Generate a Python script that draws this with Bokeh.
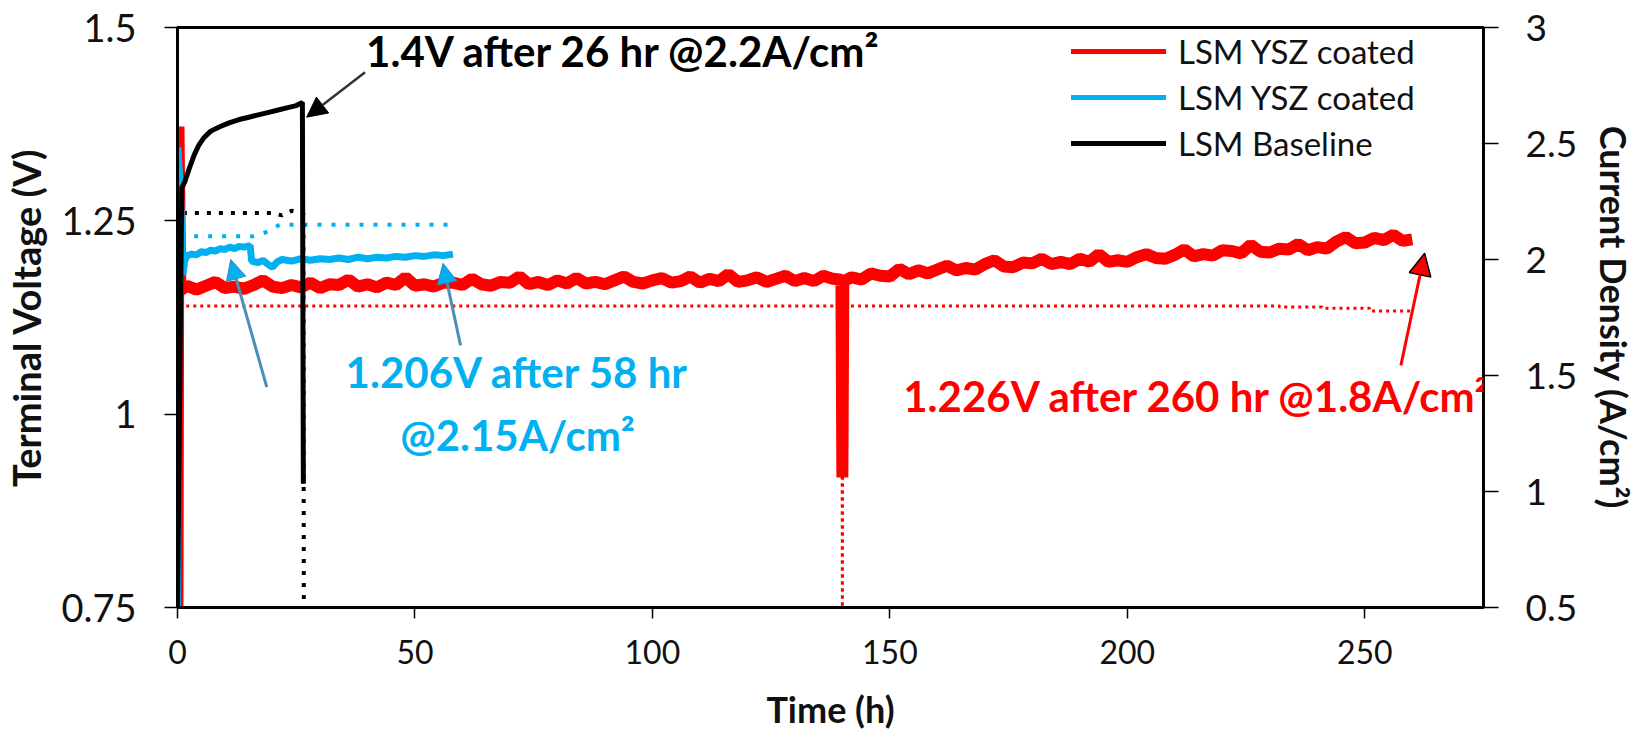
from bokeh.plotting import figure
from bokeh.models import (Range1d, LinearAxis, FixedTicker, CustomJSTickFormatter, Label,
                          Arrow, NormalHead, Legend, LegendItem)
from bokeh.embed import file_html
from bokeh.resources import INLINE

# ---------------- data ----------------
x_ticks = [0, 50, 100, 150, 200, 250]
v_ticks = [0.75, 1, 1.25, 1.5]
j_ticks = [0.5, 1, 1.5, 2, 2.5, 3]

series_names = ["LSM YSZ coated", "LSM YSZ coated", "LSM Baseline"]

# red: LSM YSZ coated (260 h) - voltage
red_t = [0, 0.2, 0.6, 2, 4, 6, 8, 10, 12, 14, 16, 18, 20, 22, 24, 26, 28, 30, 32, 34, 36, 38,
         40, 42, 44, 46, 48, 50, 52, 54, 56, 58, 60, 62, 64, 66, 68, 70, 72, 74, 76, 78, 80,
         82, 84, 86, 88, 90, 92, 94, 96, 98, 100, 102, 104, 106, 108, 110, 112, 114, 116, 118,
         120, 122, 124, 126, 128, 130, 132, 134, 136, 138, 139.8, 140, 140.2, 142, 144, 146,
         148, 150, 152, 154, 156, 158, 160, 162, 164, 166, 168, 170, 172, 174, 176, 178, 180,
         182, 184, 186, 188, 190, 192, 194, 196, 198, 200, 202, 204, 206, 208, 210, 212, 214,
         216, 218, 220, 222, 224, 226, 228, 230, 232, 234, 236, 238, 240, 242, 244, 246, 248,
         250, 252, 254, 256, 258, 260]
red_v = [0.75, 1.372, 1.160,
         1.166, 1.161, 1.166, 1.171, 1.163, 1.165, 1.162, 1.167, 1.173, 1.165, 1.163, 1.167,
         1.164, 1.170, 1.163, 1.168, 1.167, 1.174, 1.165, 1.168, 1.164, 1.170, 1.167, 1.177,
         1.166, 1.168, 1.165, 1.170, 1.170, 1.167, 1.175, 1.168, 1.166, 1.171, 1.170, 1.178,
         1.168, 1.171, 1.167, 1.173, 1.169, 1.176, 1.169, 1.171, 1.168, 1.173, 1.178, 1.171,
         1.169, 1.173, 1.176, 1.170, 1.172, 1.178, 1.170, 1.175, 1.172, 1.181, 1.171, 1.173,
         1.177, 1.171, 1.175, 1.179, 1.172, 1.176, 1.172, 1.179, 1.175,
         1.174, 0.918, 1.172,
         1.177, 1.174, 1.182, 1.179, 1.178, 1.188, 1.181, 1.186, 1.182, 1.187, 1.192, 1.186,
         1.189, 1.187, 1.194, 1.199, 1.191, 1.190, 1.196, 1.195, 1.201, 1.194, 1.197, 1.194,
         1.201, 1.197, 1.207, 1.197, 1.199, 1.197, 1.203, 1.207, 1.202, 1.201, 1.206, 1.213,
         1.204, 1.207, 1.205, 1.212, 1.211, 1.208, 1.219, 1.210, 1.209, 1.214, 1.213, 1.220,
         1.212, 1.216, 1.214, 1.223, 1.229, 1.221, 1.222, 1.228, 1.225, 1.232, 1.224, 1.226]
# red: current density (dotted)
red_jt = [0, 0.5, 139.9, 140, 140.1, 232, 232.1, 241, 241.1, 251, 251.1, 260]
red_j = [0.5, 1.8, 1.8, 0.5, 1.8, 1.8, 1.795, 1.795, 1.79, 1.79, 1.778, 1.778]

# blue: LSM YSZ coated (58 h) - voltage
blue_t = [0, 0.1, 0.5, 0.9, 1.1, 1.5, 2, 3, 4, 5, 6, 7, 8, 9, 10, 11, 12, 13, 14, 15.3, 15.6,
          17, 18, 19, 20, 21, 22, 24, 26, 28, 30, 32, 34, 36, 38, 40, 42, 44, 46, 48, 50, 52,
          54, 56, 58]
blue_v = [0.75, 1.345, 1.30, 1.24, 1.18, 1.198, 1.205, 1.207, 1.206, 1.210, 1.209, 1.212,
          1.211, 1.214, 1.213, 1.216, 1.214, 1.217, 1.216, 1.218, 1.198, 1.196, 1.199, 1.194,
          1.190, 1.197, 1.200, 1.198, 1.201, 1.199, 1.201, 1.200, 1.202, 1.200, 1.203, 1.201,
          1.203, 1.202, 1.204, 1.203, 1.205, 1.204, 1.206, 1.205, 1.207]
blue_jt = [0, 0.3, 1, 16, 19, 21.5, 58]
blue_j = [0.5, 2.3, 2.10, 2.10, 2.12, 2.15, 2.15]

# black: LSM Baseline (26 h) - voltage
black_t = [0, 0.9, 1.5, 2.5, 3.5, 4.5, 5.5, 7, 9, 11, 13, 15, 17, 19, 21, 23, 25, 26.3, 26.5]
black_v = [0.75, 1.293, 1.300, 1.318, 1.335, 1.348, 1.357, 1.366, 1.372, 1.377, 1.381, 1.384,
           1.387, 1.390, 1.393, 1.396, 1.399, 1.403, 0.91]
black_jt = [0, 0.8, 20, 22, 24, 26, 26.5, 26.6]
black_j = [0.5, 2.2, 2.2, 2.19, 2.21, 2.2, 2.2, 0.5]

RED = "#FF0000"
BLUE = "#00B0F0"
BLACK = "#000000"
FONT = "Lato"

p = figure(width=1639, height=743, x_range=Range1d(0, 275), y_range=Range1d(0.75, 1.5),
           output_backend="svg", toolbar_location=None,
           min_border_left=173, min_border_right=153, min_border_top=27, min_border_bottom=136)
p.extra_y_ranges = {"cd": Range1d(0.5, 3)}
p.xgrid.visible = False
p.ygrid.visible = False
p.outline_line_color = BLACK
p.outline_line_width = 3
p.background_fill_color = "white"
p.border_fill_color = "white"

fmt = CustomJSTickFormatter(code="return tick.toString();")

def style_axis(ax, tick_out, standoff, label_size, title_size, title_standoff):
    ax.axis_line_color = BLACK
    ax.axis_line_width = 3
    ax.major_tick_line_color = BLACK
    ax.major_tick_line_width = 1.5
    ax.major_tick_out = tick_out
    ax.major_tick_in = 0
    ax.minor_tick_out = 0
    ax.minor_tick_in = 0
    ax.major_label_standoff = standoff
    ax.major_label_text_font = FONT
    ax.major_label_text_font_size = label_size
    ax.major_label_text_color = "#111111"
    ax.axis_label_text_font = FONT
    ax.axis_label_text_font_style = "bold"
    ax.axis_label_text_font_size = title_size
    ax.axis_label_text_color = "#111111"
    ax.axis_label_standoff = title_standoff
    ax.formatter = fmt

xa = p.xaxis[0]
xa.ticker = FixedTicker(ticks=x_ticks)
xa.axis_label = "Time (h)"
style_axis(xa, 11, 21, "32px", "36px", 20)

ya = p.yaxis[0]
ya.ticker = FixedTicker(ticks=v_ticks)
ya.axis_label = "Terminal Voltage (V)"
style_axis(ya, 13, 28, "38px", "38px", 9)

ra = LinearAxis(y_range_name="cd", ticker=FixedTicker(ticks=j_ticks),
                axis_label="Current Density (A/cm²)")
style_axis(ra, 15, 27, "37px", "36px", 12)
p.add_layout(ra, "right")

# dotted current-density traces (right axis)
p.line(red_jt, red_j, y_range_name="cd", line_color=RED, line_width=3, line_dash="3 4")
p.line(blue_jt, blue_j, y_range_name="cd", line_color=BLUE, line_width=4, line_dash="4 10")
p.line(black_jt, black_j, y_range_name="cd", line_color=BLACK, line_width=4, line_dash="4 8")

# voltage traces (left axis)
p.line(red_t, red_v, line_color=RED, line_width=12)
p.line(blue_t, blue_v, line_color=BLUE, line_width=7)
p.line(black_t, black_v, line_color=BLACK, line_width=5)

# legend entries (thin sample lines, drawn off-range so only the legend shows them)
off_x = [-20, -19]
off_y = [0.0, 0.0]
lr = p.line(off_x, off_y, line_color=RED, line_width=5, line_cap="round")
lb = p.line(off_x, off_y, line_color=BLUE, line_width=5, line_cap="round")
lk = p.line(off_x, off_y, line_color=BLACK, line_width=5, line_cap="round")
legend = Legend(items=[LegendItem(label=series_names[0], renderers=[lr]),
                       LegendItem(label=series_names[1], renderers=[lb]),
                       LegendItem(label=series_names[2], renderers=[lk])],
                location=(894, 444), padding=0, margin=0, spacing=6,
                glyph_width=95, glyph_height=40, label_standoff=12,
                label_text_font=FONT, label_text_font_size="33px",
                label_text_color="#111111",
                border_line_alpha=0, background_fill_alpha=0)
p.add_layout(legend)

# annotations
def add_label(x, y, text, color):
    p.add_layout(Label(x=x, y=y, text=text, text_align="center", text_baseline="middle",
                       text_font=FONT, text_font_size="42px", text_font_style="bold",
                       text_color=color))

add_label(94, 1.470, "1.4V after 26 hr @2.2A/cm²", BLACK)
add_label(71.6, 1.054, "1.206V after 58 hr", BLUE)
add_label(71.6, 0.9725, "@2.15A/cm²", BLUE)
add_label(214.8, 1.024, "1.226V after 260 hr @1.8A/cm²", RED)

p.add_layout(Arrow(end=NormalHead(size=20, fill_color=BLACK, line_color=BLACK),
                   x_start=39.5, y_start=1.442, x_end=27.2, y_end=1.384,
                   line_color="#333333", line_width=2.5))
p.add_layout(Arrow(end=NormalHead(size=20, fill_color=BLUE, line_color="#3f86ad"),
                   x_start=18.8, y_start=1.035, x_end=11.2, y_end=1.20,
                   line_color="#4a8fb5", line_width=3))
p.add_layout(Arrow(end=NormalHead(size=20, fill_color=BLUE, line_color="#3f86ad"),
                   x_start=59.6, y_start=1.089, x_end=55.9, y_end=1.195,
                   line_color="#4a8fb5", line_width=3))
p.add_layout(Arrow(end=NormalHead(size=22, fill_color=RED, line_color=BLACK, line_width=1.5),
                   x_start=257.6, y_start=1.063, x_end=262.6, y_end=1.208,
                   line_color=RED, line_width=3))

open("out.html", "w").write(file_html(p, INLINE, title="chart"))
